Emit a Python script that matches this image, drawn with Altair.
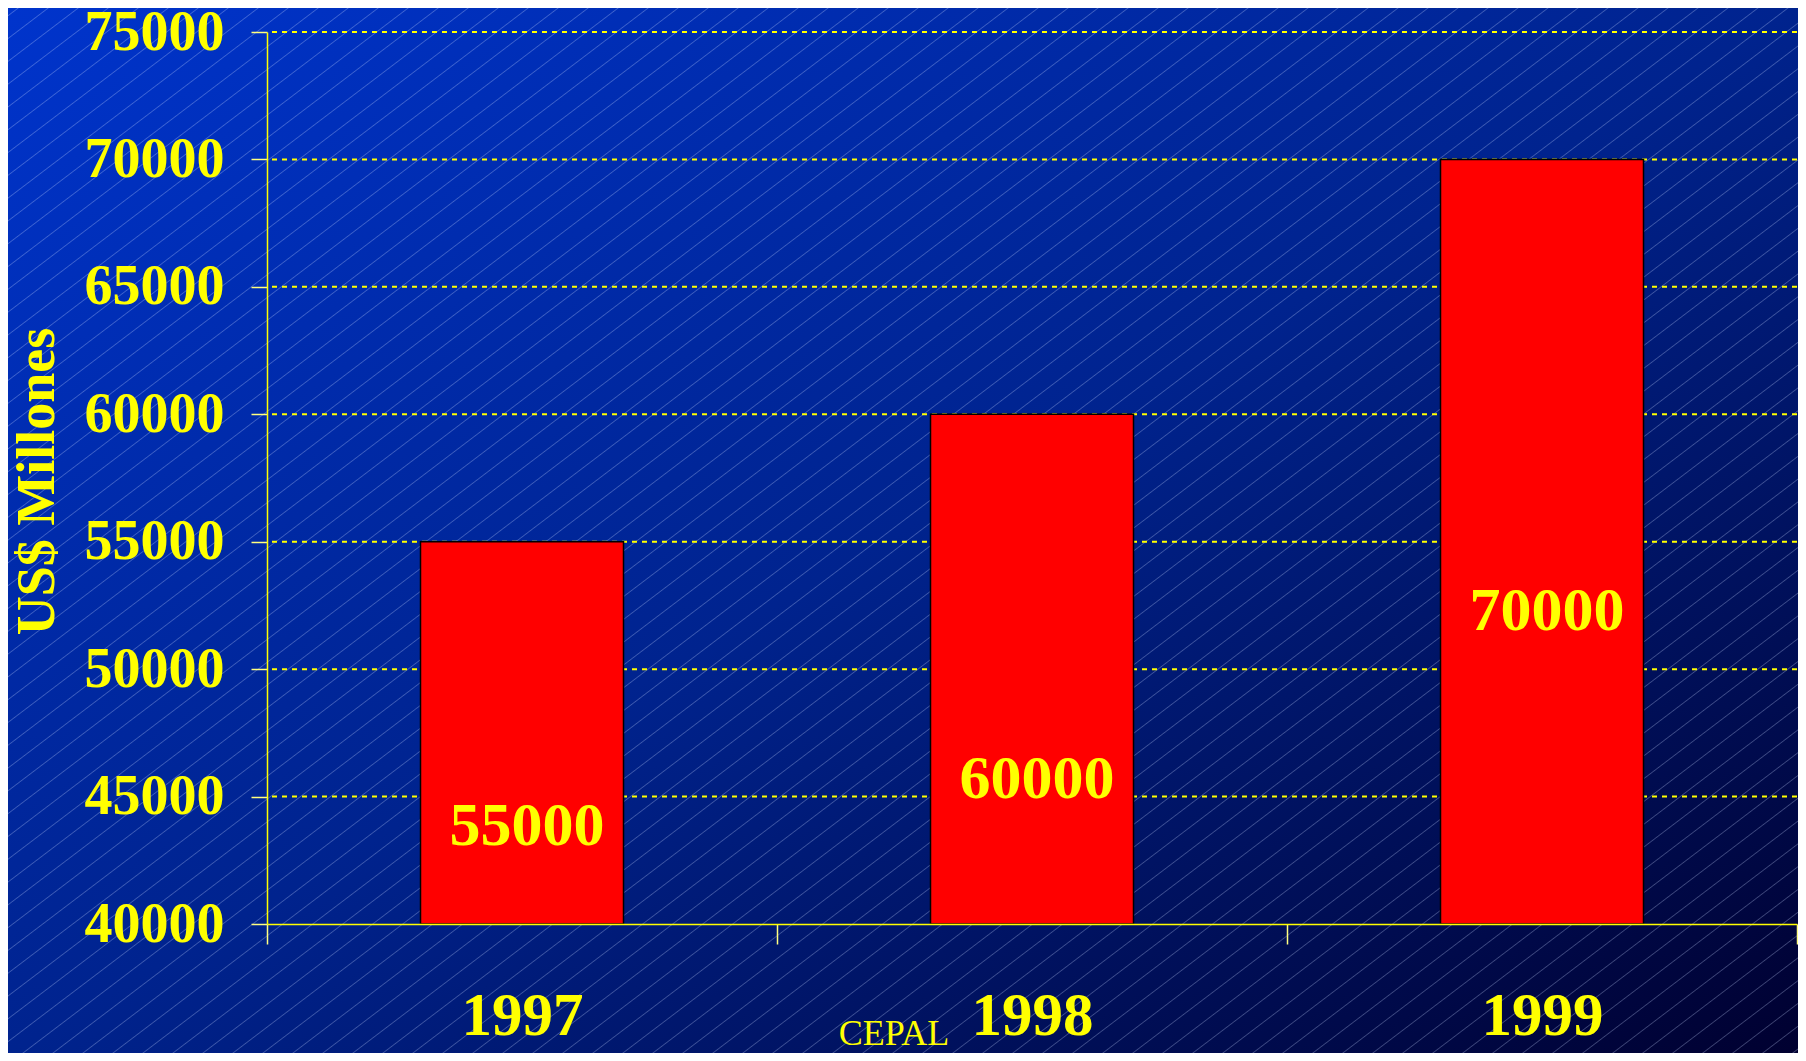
import math
import altair as alt
import pandas as pd

# ---------------- data ----------------
years = ["1997", "1998", "1999"]
values = [55000, 60000, 70000]
label_anchor = [43850, 45700, 52300]      # where the value labels sit inside the bars (data units)
y_ticks = [40000, 45000, 50000, 55000, 60000, 65000, 70000, 75000]
x_bounds = [0, 1, 2, 3]
y_title = "US$ Millones"
source_note = "CEPAL"

# ---------------- layout ----------------
W, H = 1530, 892
PAD_L, PAD_T, PAD_R, PAD_B = 259, 24, 1, 129
TOT_W, TOT_H = PAD_L + W + PAD_R, PAD_T + H + PAD_B

YELLOW = "#FFFF00"
FONT = "Liberation Serif"

df = pd.DataFrame({
    "year": years,
    "value": values,
    "pos": [i + 0.5 for i in range(len(years))],
    "label_y": label_anchor,
})
grid_df = pd.DataFrame({"value": y_ticks[1:]})

# ---------------- background gradients ----------------
bg_grad = alt.Gradient(
    gradient="linear", x1=0, y1=0, x2=1, y2=1,
    stops=[
        alt.GradientStop(offset=0, color="#0034CC"),
        alt.GradientStop(offset=0.5, color="#00238E"),
        alt.GradientStop(offset=1, color="#000030"),
    ],
)

slope = 0.76       # hatch line slope
spacing = 18.15    # perpendicular distance between hatch lines (px)
nrm = math.hypot(slope, 1.0)
ux, uy = slope / nrm, 1.0 / nrm
extent = TOT_W * ux + TOT_H * uy
gx, gy = slope * TOT_W, TOT_H
gn = math.hypot(gx, gy)
gx, gy = gx / gn, gy / gn
proj = gx + gy
sx2, sy2 = proj * gx, proj * gy
step = spacing / extent
hw = 0.9 / extent
clear = "rgba(200,215,255,0)"
line_c = "rgba(200,215,255,0.30)"
stops = [alt.GradientStop(offset=0, color=clear)]
k = 0
while True:
    o = (k + 0.34) * step
    if o + hw >= 1:
        break
    if o - hw > 0:
        stops.append(alt.GradientStop(offset=round(o - hw, 6), color=clear))
        stops.append(alt.GradientStop(offset=round(o, 6), color=line_c))
        stops.append(alt.GradientStop(offset=round(o + hw, 6), color=clear))
    k += 1
stops.append(alt.GradientStop(offset=1, color=clear))
hatch_grad = alt.Gradient(gradient="linear", x1=0, y1=0, x2=sx2, y2=sy2, stops=stops)

one = alt.Data(values=[{}])
bg = alt.Chart(one).mark_rect(fill=bg_grad).encode(
    x=alt.value(-PAD_L), x2=alt.value(W + PAD_R),
    y=alt.value(-PAD_T), y2=alt.value(H + PAD_B),
)
hatch = alt.Chart(one).mark_rect(fill=hatch_grad).encode(
    x=alt.value(-PAD_L), x2=alt.value(W + PAD_R),
    y=alt.value(-PAD_T), y2=alt.value(H + PAD_B),
)

# ---------------- scales / axes ----------------
yscale = alt.Scale(domain=[y_ticks[0], y_ticks[-1]], nice=False, zero=False, padding=0)
xscale = alt.Scale(domain=[x_bounds[0], x_bounds[-1]], nice=False, zero=False, padding=0)

label_expr = "[" + ",".join("'%s'" % y for y in years) + ",''][datum.value]"

y_axis = alt.Axis(
    values=y_ticks, title=y_title, grid=False, format="d",
    domainColor=YELLOW, domainWidth=1.5,
    tickColor="#FFFF80", tickWidth=1.5, tickSize=16,
    labelFont=FONT, labelFontWeight="bold", labelFontSize=56, labelColor=YELLOW,
    labelPadding=27, labelBaseline="middle", labelFlush=False, labelOverlap=False,
    titleFont=FONT, titleFontWeight="bold", titleFontSize=54, titleColor=YELLOW,
    titleAngle=270, titleAlign="center", titleBaseline="alphabetic",
    titleX=-214, titleY=449, zindex=1,
)
x_axis = alt.Axis(
    values=x_bounds, title=None, grid=False, labelExpr=label_expr,
    domainColor=YELLOW, domainWidth=1.5,
    tickColor="#FFFF80", tickWidth=1.5, tickSize=20,
    labelFont=FONT, labelFontWeight="bold", labelFontSize=61, labelColor=YELLOW,
    labelPadding=90, labelBaseline="alphabetic", labelAlign="center",
    labelOffset=W / len(years) / 2, labelFlush=False, labelOverlap=False, zindex=1,
)

Y = lambda f: alt.Y(f, scale=yscale, axis=y_axis, title=y_title)
X = lambda f: alt.X(f, scale=xscale, axis=x_axis, title=None)

grid = alt.Chart(grid_df).mark_rule(color=YELLOW, strokeWidth=2, strokeDash=[5, 5]).encode(
    y=Y("value:Q"),
)

bars = alt.Chart(df).mark_bar(size=203, color="#FF0000", stroke="#000000", strokeWidth=1.5).encode(
    x=X("pos:Q"),
    y=Y("value:Q"),
    y2=alt.datum(y_ticks[0]),
)

labels = alt.Chart(df).mark_text(
    font=FONT, fontWeight="bold", fontSize=62, color=YELLOW, baseline="middle", align="center", dx=5,
).encode(
    x=X("pos:Q"),
    y=Y("label_y:Q"),
    text=alt.Text("value:Q", format="d"),
)

note = alt.Chart(alt.Data(values=[{"t": source_note}])).mark_text(
    font=FONT, fontSize=36, color=YELLOW, baseline="alphabetic", align="center",
).encode(
    x=alt.value(627), y=alt.value(1013), text="t:N",
)

chart = alt.layer(bg, hatch, grid, bars, labels, note).properties(
    width=W, height=H,
    padding={"left": PAD_L, "top": PAD_T, "right": PAD_R, "bottom": PAD_B},
    autosize=alt.AutoSizeParams(type="none"),
    background="#000033",
).configure_view(stroke=None)

chart.save("out.html", embed_options={"renderer": "svg", "actions": False})
